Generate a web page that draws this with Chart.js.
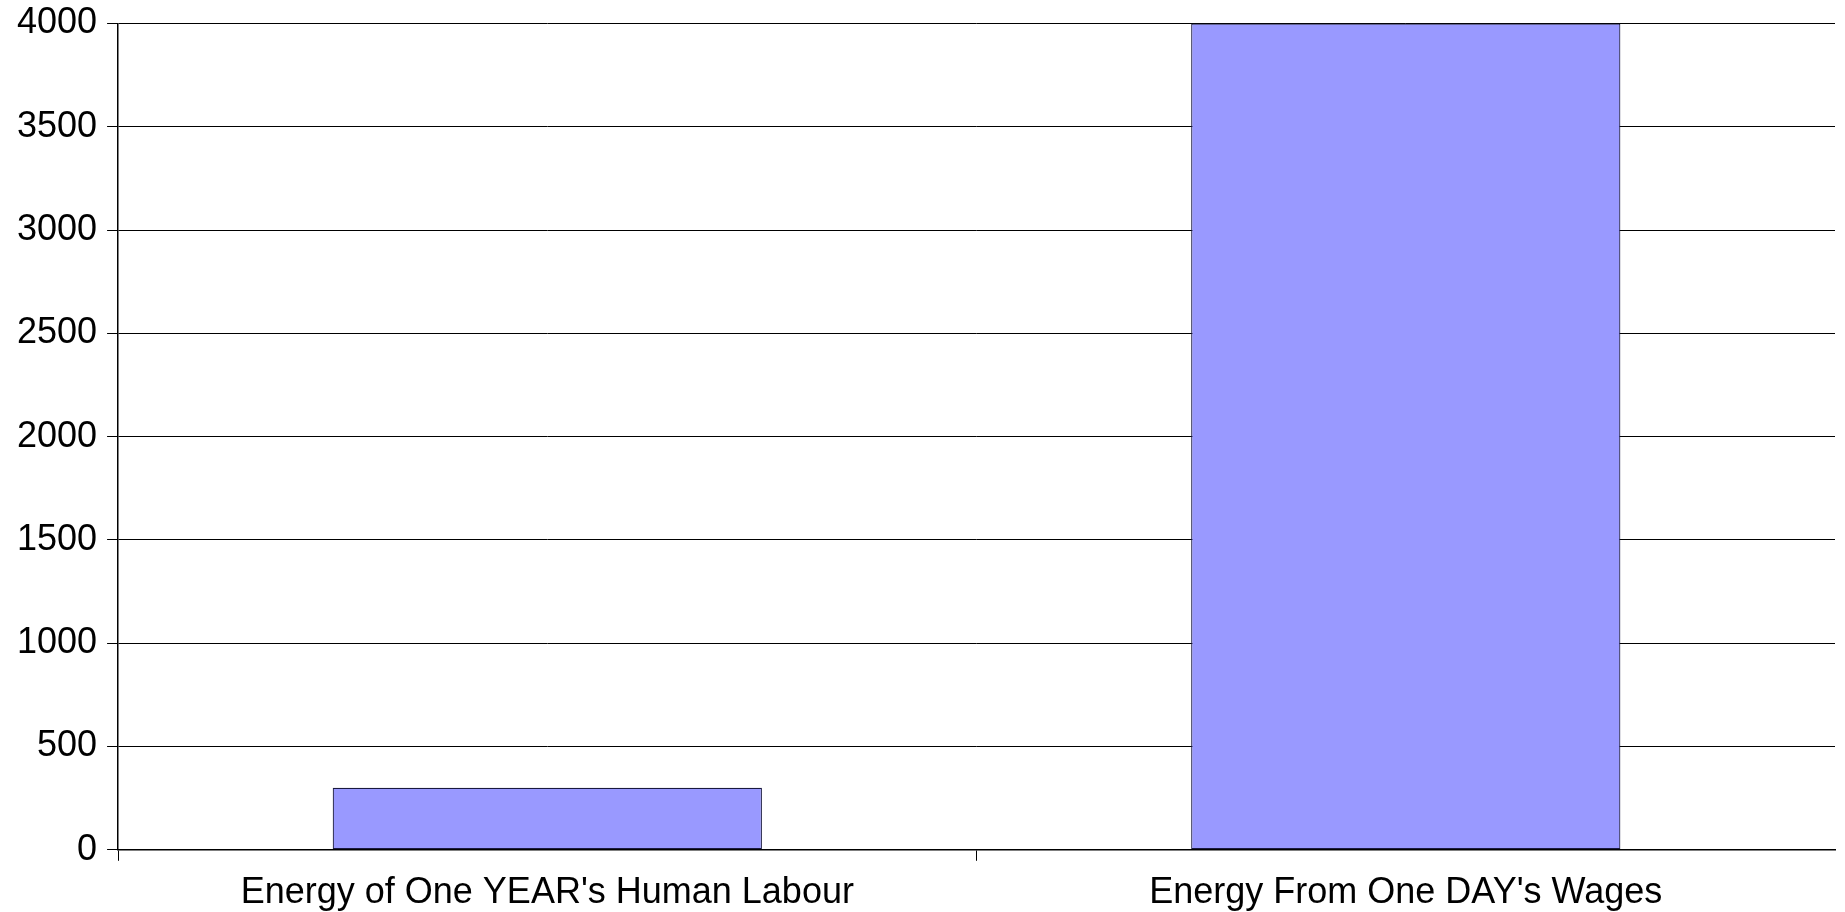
<!DOCTYPE html>
<html>
<head>
<meta charset="utf-8">
<script src="https://cdn.jsdelivr.net/npm/chart.js@4"></script>
<style>
  html, body { margin: 0; padding: 0; background: #fff; }
  #wrap { width: 1845px; height: 912px; }
</style>
</head>
<body>
<div id="wrap"><canvas id="chart" width="1845" height="912"></canvas></div>
<script>
// Chart values
const categories = ["Energy of One YEAR's Human Labour", "Energy From One DAY's Wages"];
const energyValues = [300, 4000];
const yTicks = [0, 500, 1000, 1500, 2000, 2500, 3000, 3500, 4000];

document.addEventListener('DOMContentLoaded', function() {
    const ctx = document.getElementById('chart').getContext('2d');
    const fontFamily = 'Liberation Sans, Arial, sans-serif';

    new Chart(ctx, {
        type: 'bar',
        data: {
            labels: categories,
            datasets: [{
                data: energyValues,
                backgroundColor: '#9999ff',
                borderColor: '#1a1a40',
                borderWidth: 1.2,
                borderSkipped: false,
                barPercentage: 0.5,
                categoryPercentage: 1.0
            }]
        },
        options: {
            responsive: false,
            animation: false,
            layout: { padding: { top: 0, right: 10, left: 7, bottom: -14 } },
            plugins: {
                legend: { display: false },
                tooltip: { enabled: false }
            },
            scales: {
                x: {
                    offset: true,
                    grid: {
                        display: true,
                        drawOnChartArea: false,
                        drawTicks: true,
                        tickLength: 11,
                        // the closing line at the right end has no tick
                        color: c => c.tick === undefined ? 'rgba(0,0,0,0)' : '#000',
                        offset: true
                    },
                    border: { display: true, color: '#000', width: 1.5 },
                    ticks: {
                        color: '#000',
                        padding: 11,
                        maxRotation: 0,
                        font: { family: fontFamily, size: 36 }
                    }
                },
                y: {
                    min: 0,
                    max: 4000,
                    afterBuildTicks: function(axis) {
                        axis.ticks = yTicks.map(v => ({ value: v }));
                    },
                    grid: {
                        color: '#000',
                        lineWidth: 1,
                        tickLength: 11
                    },
                    border: { display: true, color: '#000', width: 1.5 },
                    ticks: {
                        color: '#000',
                        padding: 10,
                        font: { family: fontFamily, size: 36, lineHeight: 0.75 },
                        callback: v => String(v)
                    }
                }
            }
        }
    });
});
</script>
</body>
</html>
